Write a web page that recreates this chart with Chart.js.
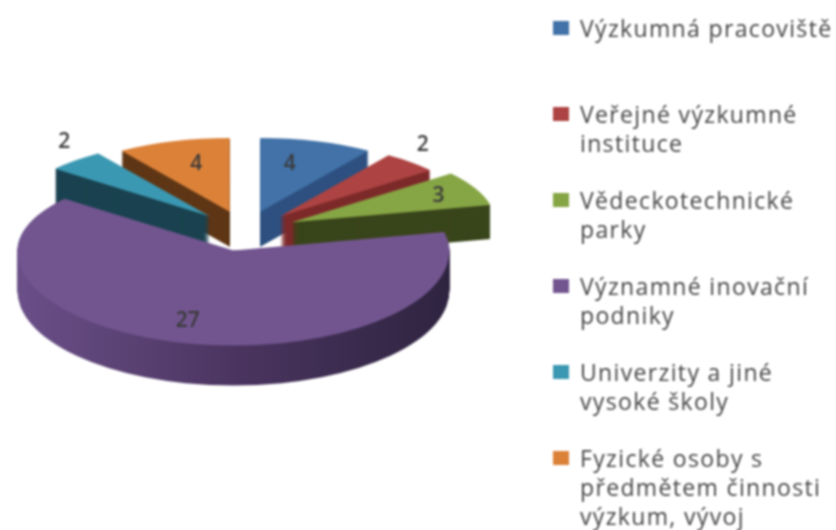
<!DOCTYPE html>
<html>
<head>
<meta charset="utf-8">
<script src="https://cdn.jsdelivr.net/npm/chart.js@4"></script>
<style>
html, body { margin: 0; background: #fff; overflow: hidden; }
#wrap { position: relative; width: 836px; height: 530px; filter: blur(0.8px); }
#legend { position: absolute; left: 553px; top: 14px; font: 500 23px/29px "Open Sans", sans-serif; color: #444; letter-spacing: 1.35px; }
.item { position: relative; height: 86px; padding-left: 27px; white-space: nowrap; }
.swatch { position: absolute; left: 0; top: 7px; width: 16px; height: 14px; }
</style>
</head>
<body>
<div id="wrap">
<canvas id="chartOne" width="836" height="530"></canvas>
<div id="legend"></div>
</div>
<script>
var categories = [
    ["Výzkumná pracoviště"],
    ["Veřejné výzkumné", "instituce"],
    ["Vědeckotechnické", "parky"],
    ["Významné inovační", "podniky"],
    ["Univerzity a jiné", "vysoké školy"],
    ["Fyzické osoby s", "předmětem činnosti", "výzkum, vývoj"]
]
var values = [4, 2, 3, 27, 2, 4]

var topColors = ["#4272a8", "#ad4342", "#86a544", "#72558f", "#3b98b2", "#dc8138"]
var wallColors = ["#2e5180", "#7d2a2a", "#39451b", null, "#1a4250", "#5f3716"]
var bigWallStops = ["#6a4f88", "#4b3560", "#2e2440"]

// slice look: size factor, wall height and label position along the slice axis
var sliceScale = [1, 1, 1.06, 1.125, 1.03, 1]
var wallDepth = [35, 35, 34, 40, 35, 35]
var labelAlongX = [0.52, 1.09, 0.8, 0.95, 1.08, 0.59]
var labelAlongY = [0.71, 1.36, 0.83, 0.74, 1.37, 0.71]
var paintOrder = [5, 4, 0, 1, 2, 3]

var backRadius = 192
var explode = 52
var flatBack = 0.385
var flatFront = 0.44

function paintSlice(ctx, chart, arc, i, color, drop) {
    var mid = (arc.startAngle + arc.endAngle) / 2
    var sx = backRadius / arc.outerRadius
    var px = arc.x + Math.cos(mid) * explode
    var py = arc.y + Math.sin(mid) * explode * flatBack + drop
    var s = sx * sliceScale[i]
    var options = arc.options
    arc.options = Object.create(options)
    arc.options.backgroundColor = color

    ctx.save()
    ctx.beginPath()
    ctx.rect(0, 0, chart.width, py + 0.5)
    ctx.clip()
    ctx.translate(px, py)
    ctx.scale(s, s * flatBack)
    ctx.translate(-arc.x, -arc.y)
    arc.draw(ctx)
    ctx.restore()

    ctx.save()
    ctx.beginPath()
    ctx.rect(0, py - 0.5, chart.width, chart.height)
    ctx.clip()
    ctx.translate(px, py)
    ctx.scale(s, s * flatFront)
    ctx.translate(-arc.x, -arc.y)
    arc.draw(ctx)
    ctx.restore()

    arc.options = options
}

function wallFill(ctx, arc, i) {
    if (wallColors[i]) return wallColors[i]
    var g = ctx.createLinearGradient(arc.x - arc.outerRadius, 0, arc.x + arc.outerRadius, 0)
    bigWallStops.forEach(function (c, n) {
        g.addColorStop(n / (bigWallStops.length - 1), c)
    })
    return g
}

var tiltedPie = {
    id: "tiltedPie",
    beforeDatasetsDraw: function (chart) {
        var ctx = chart.ctx
        var arcs = chart.getDatasetMeta(0).data
        paintOrder.forEach(function (i) {
            var fill = wallFill(ctx, arcs[i], i)
            for (var drop = wallDepth[i]; drop > 0; drop--) {
                paintSlice(ctx, chart, arcs[i], i, fill, drop)
            }
            paintSlice(ctx, chart, arcs[i], i, topColors[i], 0)
        })
        ctx.save()
        ctx.font = "600 21px 'Open Sans', sans-serif"
        ctx.fillStyle = "#3a3a3a"
        ctx.textAlign = "center"
        ctx.textBaseline = "middle"
        arcs.forEach(function (arc, i) {
            var mid = (arc.startAngle + arc.endAngle) / 2
            var r = backRadius * sliceScale[i]
            var k = Math.sin(mid) > 0 ? flatFront : flatBack
            var x = arc.x + Math.cos(mid) * (explode + r * labelAlongX[i])
            var y = arc.y + Math.sin(mid) * (explode * flatBack + r * k * labelAlongY[i])
            ctx.fillText(String(values[i]), x, y + 2)
        })
        ctx.restore()
        return false
    }
}

var getChartOne = document.getElementById("chartOne")

var chartOne = new Chart(getChartOne, {
    type: "pie",
    data: {
        labels: categories.map(function (c) { return c.join(" ") }),
        datasets: [{
            data: values,
            backgroundColor: topColors,
            borderWidth: 0
        }]
    },
    options: {
        responsive: false,
        animation: false,
        events: [],
        layout: { padding: { right: 346, bottom: 68 } },
        plugins: {
            legend: { display: false },
            tooltip: { enabled: false }
        }
    },
    plugins: [tiltedPie]
})

var legend = document.getElementById("legend")
categories.forEach(function (lines, i) {
    var item = document.createElement("div")
    item.className = "item"
    var swatch = document.createElement("span")
    swatch.className = "swatch"
    swatch.style.background = topColors[i]
    item.appendChild(swatch)
    lines.forEach(function (line) {
        var row = document.createElement("div")
        row.textContent = line
        item.appendChild(row)
    })
    legend.appendChild(item)
})
</script>
</body>
</html>
